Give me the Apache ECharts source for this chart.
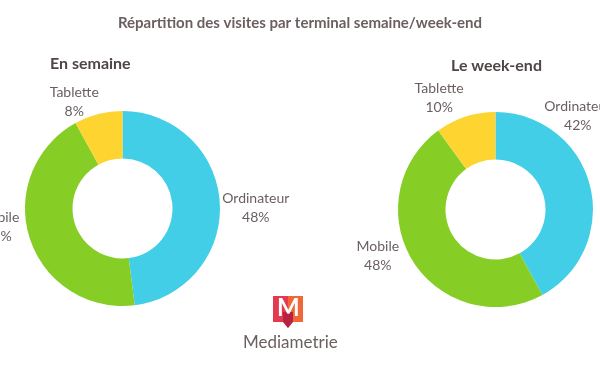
<!DOCTYPE html>
<html><head><meta charset="utf-8">
<script src="https://cdn.jsdelivr.net/npm/echarts@6/dist/echarts.min.js"></script>
<style>html,body{margin:0;padding:0;background:#fff}#c{width:600px;height:372px}</style>
</head><body><div id="c"></div>
<script>
const categories = ['Ordinateur', 'Mobile', 'Tablette'];
const semaineValues = [48, 44, 8];
const weekendValues = [42, 48, 10];
const colors = ['#43CEE8', '#86CE26', '#FED430'];
const chartTitle = 'Répartition des visites par terminal semaine/week-end';
const subtitles = ['En semaine', 'Le week-end'];

const FONT = 'Lato';
const labelColor = '#6a5f5f';
// label nudges (style only), per series, per category
const labelNudges = [
  [[-7, 6], [11, -13], [16, -8]],
  [[-55, -68], [7, -8], [14, -15]]
];

function mkData(vals) {
  return categories.map((n, i) => ({ name: n, value: vals[i], itemStyle: { color: colors[i] } }));
}
function mkSeries(vals, center, si) {
  return {
    type: 'pie',
    center: center,
    radius: [50, 97.5],
    startAngle: 90,
    clockwise: true,
    avoidLabelOverlap: false,
    itemStyle: { borderWidth: 0 },
    emphasis: { disabled: true },
    label: {
      show: true,
      position: 'outside',
      alignTo: 'none',
      width: 68,
      overflow: 'none',
      formatter: '{a|{b}}\n{a|{c}%}',
      rich: { a: { fontFamily: FONT, fontSize: 14, color: labelColor, lineHeight: 19, align: 'center' } }
    },
    labelLine: { show: false, length: 4, length2: 0 },
    labelLayout: function (p) {
      const n = labelNudges[si][p.dataIndex];
      return { dx: n[0], dy: n[1] };
    },
    data: mkData(vals)
  };
}

const chart = echarts.init(document.getElementById('c'), null, { renderer: 'canvas' });
chart.setOption({
  animation: false,
  title: [
    { text: chartTitle, left: 'center', top: 11, textStyle: { fontFamily: FONT, fontWeight: 'bold', fontSize: 15, color: '#6b6060' } },
    { text: subtitles[0], left: 45, top: 51, textStyle: { fontFamily: FONT, fontWeight: 'bold', fontSize: 16, color: '#4f4545' } },
    { text: subtitles[1], left: 446, top: 53, textStyle: { fontFamily: FONT, fontWeight: 'bold', fontSize: 16, color: '#4f4545' } }
  ],
  series: [
    mkSeries(semaineValues, [122.5, 208.5], 0),
    mkSeries(weekendValues, [495.5, 209.5], 1)
  ],
  graphic: [
    { type: 'polygon', shape: { points: [[273,296],[288,296],[288,328],[284,322],[273,322]] }, style: { fill: '#E23A4E' } },
    { type: 'polygon', shape: { points: [[288,296],[303,296],[303,322],[292,322],[288,328]] }, style: { fill: '#F2673A' } },
    { type: 'polygon', shape: { points: [[283,312],[293,312],[293,322],[288,328],[283,322]] }, style: { fill: '#B82241' } },
    { type: 'text', left: 277, top: 296, style: { text: 'M', fontFamily: FONT, fontWeight: 'bold', fontSize: 24, fill: '#ffffff' } },
    { type: 'text', left: 243, top: 334, style: { text: 'Mediametrie', fontFamily: FONT, fontSize: 17, fill: '#6b6060' } }
  ]
});
</script></body></html>
